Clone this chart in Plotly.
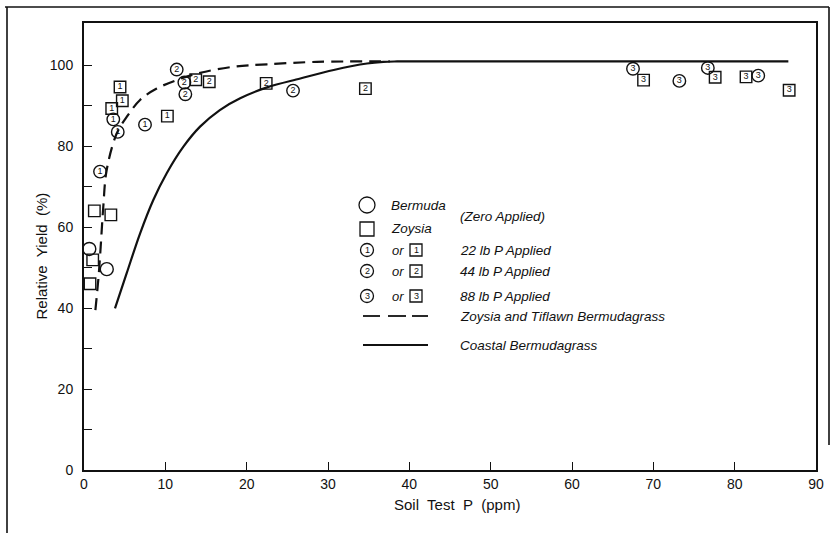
import plotly.graph_objects as go

# ---- data ----
bermuda0_x = [0.65, 2.8]
bermuda0_y = [54.6, 49.6]
zoysia0_x = [1.27, 3.3, 1.07, 0.74]
zoysia0_y = [64.0, 63.0, 51.9, 46.0]

bermuda1_x = [1.97, 3.6, 4.15, 7.5]
bermuda1_y = [73.7, 86.6, 83.5, 85.3]
zoysia1_x = [4.43, 4.71, 3.41, 10.25]
zoysia1_y = [94.6, 91.2, 89.3, 87.4]

bermuda2_x = [11.4, 12.34, 12.46, 25.7]
bermuda2_y = [98.9, 95.7, 92.8, 93.7]
zoysia2_x = [13.74, 15.4, 22.4, 34.6]
zoysia2_y = [96.4, 95.9, 95.5, 94.2]

bermuda3_x = [67.5, 73.2, 76.7, 82.9]
bermuda3_y = [99.1, 96.1, 99.3, 97.4]
zoysia3_x = [68.8, 77.6, 81.4, 86.7]
zoysia3_y = [96.3, 97.0, 97.1, 93.8]

zoysia_curve_x = [1.4, 1.8, 2.05, 2.37, 2.79, 4.02, 5.25, 6.89, 8.94, 11.4, 14.3, 18.4, 22.5, 28.6, 37.6]
zoysia_curve_y = [39.5, 48.0, 55.1, 65.0, 74.1, 83.1, 87.2, 91.4, 94.2, 96.3, 98.1, 99.6, 100.2, 100.8, 100.9]

coastal_curve_x = [3.81, 5.25, 6.89, 8.52, 10.17, 12.2, 14.27, 16.7, 19.2, 22.5, 26.6, 30.7, 34.8, 36.8, 38.5, 86.6]
coastal_curve_y = [39.9, 48.6, 58.4, 66.7, 73.3, 79.8, 84.8, 88.9, 91.8, 94.5, 96.7, 98.8, 100.4, 100.8, 100.9, 100.9]

x_ticks = [0, 10, 20, 30, 40, 50, 60, 70, 80, 90]
x_ticktext = ["0", "10", "20", "30", "40", "50", "60", "70", "80", "90"]
y_ticks = [0, 10, 20, 30, 40, 50, 60, 70, 80, 90, 100]
y_ticktext = ["0", "", "20", "", "40", "", "60", "", "80", "", "100"]

FONT = "Liberation Sans"
BLACK = "#111111"

fig = go.Figure()

fig.add_trace(go.Scatter(x=zoysia_curve_x, y=zoysia_curve_y, mode="lines",
                         line=dict(color=BLACK, width=2.2, dash="12px,7px"),
                         line_shape="spline", hoverinfo="skip"))
fig.add_trace(go.Scatter(x=coastal_curve_x, y=coastal_curve_y, mode="lines",
                         line=dict(color=BLACK, width=2.2),
                         line_shape="spline", hoverinfo="skip"))

def marks(xs, ys, symbol, size, label):
    fig.add_trace(go.Scatter(
        x=xs, y=ys, mode="markers+text" if label else "markers",
        text=[label] * len(xs) if label else None,
        textposition="middle center",
        textfont=dict(family=FONT, size=9, color=BLACK),
        marker=dict(symbol=symbol, size=size, color="rgba(0,0,0,0)",
                    line=dict(color=BLACK, width=1.4)),
        cliponaxis=False))

marks(bermuda0_x, bermuda0_y, "circle", 13, None)
marks(zoysia0_x, zoysia0_y, "square", 11.5, None)
marks(bermuda1_x, bermuda1_y, "circle", 12.5, "1")
marks(zoysia1_x, zoysia1_y, "square", 11.5, "1")
marks(bermuda2_x, bermuda2_y, "circle", 12.5, "2")
marks(zoysia2_x, zoysia2_y, "square", 11.5, "2")
marks(bermuda3_x, bermuda3_y, "circle", 12.5, "3")
marks(zoysia3_x, zoysia3_y, "square", 11.5, "3")

# pixel -> paper helpers (plot area: x 84..816, y 23..470)
L, R, T, B = 84, 816, 23, 470
def px(v):
    return (v - L) / (R - L)
def py(v):
    return (B - v) / (B - T)

shapes = []
annotations = []

def txt(x, y, s, size=13.5, italic=True, xanchor="left"):
    annotations.append(dict(x=px(x), y=py(y), xref="paper", yref="paper",
                            text=("<i>%s</i>" % s) if italic else s,
                            showarrow=False, xanchor=xanchor, yanchor="middle",
                            font=dict(family=FONT, size=size, color=BLACK)))

def circ(x, y, d, label=None):
    shapes.append(dict(type="circle", xref="paper", yref="paper",
                       xsizemode="pixel", ysizemode="pixel",
                       xanchor=px(x), yanchor=py(y),
                       x0=-d / 2, x1=d / 2, y0=-d / 2, y1=d / 2,
                       line=dict(color=BLACK, width=1.3)))
    if label:
        txt(x, y, label, size=9, italic=False, xanchor="center")

def sq(x, y, d, label=None):
    shapes.append(dict(type="rect", xref="paper", yref="paper",
                       xsizemode="pixel", ysizemode="pixel",
                       xanchor=px(x), yanchor=py(y),
                       x0=-d / 2, x1=d / 2, y0=-d / 2, y1=d / 2,
                       line=dict(color=BLACK, width=1.3)))
    if label:
        txt(x, y, label, size=9, italic=False, xanchor="center")

# legend
circ(367, 205, 16)
txt(389, 205, "Bermuda")
sq(367, 229, 14)
txt(389, 229, "Zoysia")
txt(458, 216, "(Zero Applied)")
for yy, n, lab in [(250, "1", "22 lb P Applied"), (271, "2", "44 lb P Applied"),
                   (296, "3", "88 lb P Applied")]:
    circ(367, yy, 13, n)
    txt(390, yy, "or", size=13)
    sq(416, yy, 12, n)
    txt(458, yy, lab)
for a, b in [(363, 380), (388, 406), (412, 428)]:
    shapes.append(dict(type="line", xref="paper", yref="paper",
                       x0=px(a), x1=px(b), y0=py(316), y1=py(316),
                       line=dict(color=BLACK, width=1.8)))
txt(458, 316, "Zoysia and Tiflawn Bermudagrass")
shapes.append(dict(type="line", xref="paper", yref="paper",
                   x0=px(363), x1=px(428), y0=py(345), y1=py(345),
                   line=dict(color=BLACK, width=1.8)))
txt(458, 345, "Coastal Bermudagrass")

# axis titles
annotations.append(dict(x=px(457), y=py(515), xref="paper", yref="paper",
                        text="Soil&nbsp; Test&nbsp; P&nbsp; (ppm)", showarrow=False,
                        font=dict(family=FONT, size=15, color=BLACK)))
annotations.append(dict(x=px(30), y=py(256), xref="paper", yref="paper",
                        text="Relative&nbsp; Yield&nbsp; (%)", showarrow=False, textangle=-90,
                        font=dict(family=FONT, size=15, color=BLACK)))

# outer frame of the figure
for x0, y0, x1, y1 in [(7, 7, 7, 533), (5, 7, 829, 7), (829, 7, 829, 445)]:
    shapes.append(dict(type="line", xref="paper", yref="paper",
                       x0=px(x0), x1=px(x1), y0=py(y0), y1=py(y1),
                       line=dict(color=BLACK, width=1.6)))

fig.update_layout(
    width=834, height=533,
    margin=dict(l=L, r=834 - R, t=T, b=533 - B, autoexpand=False),
    paper_bgcolor="white", plot_bgcolor="white",
    showlegend=False,
    shapes=shapes, annotations=annotations,
    font=dict(family=FONT, size=13, color=BLACK),
    xaxis=dict(range=[0, 90], tickvals=x_ticks, ticktext=x_ticktext,
               ticks="inside", ticklen=8, tickwidth=1.3, tickcolor=BLACK,
               showline=True, linecolor=BLACK, linewidth=2, mirror=True,
               showgrid=False, zeroline=False, fixedrange=True,
               tickfont=dict(family=FONT, size=14, color=BLACK)),
    yaxis=dict(range=[0, 110.4], tickvals=y_ticks, ticktext=y_ticktext,
               ticks="inside", ticklen=8, tickwidth=1.3, tickcolor=BLACK,
               showline=True, linecolor=BLACK, linewidth=2, mirror=True,
               showgrid=False, zeroline=False, fixedrange=True,
               ticklabelstandoff=6,
               tickfont=dict(family=FONT, size=14, color=BLACK)),
)

fig.write_html("out.html", config={"displayModeBar": False},
               post_script="document.body.style.margin='0';document.body.style.overflow='hidden';")
